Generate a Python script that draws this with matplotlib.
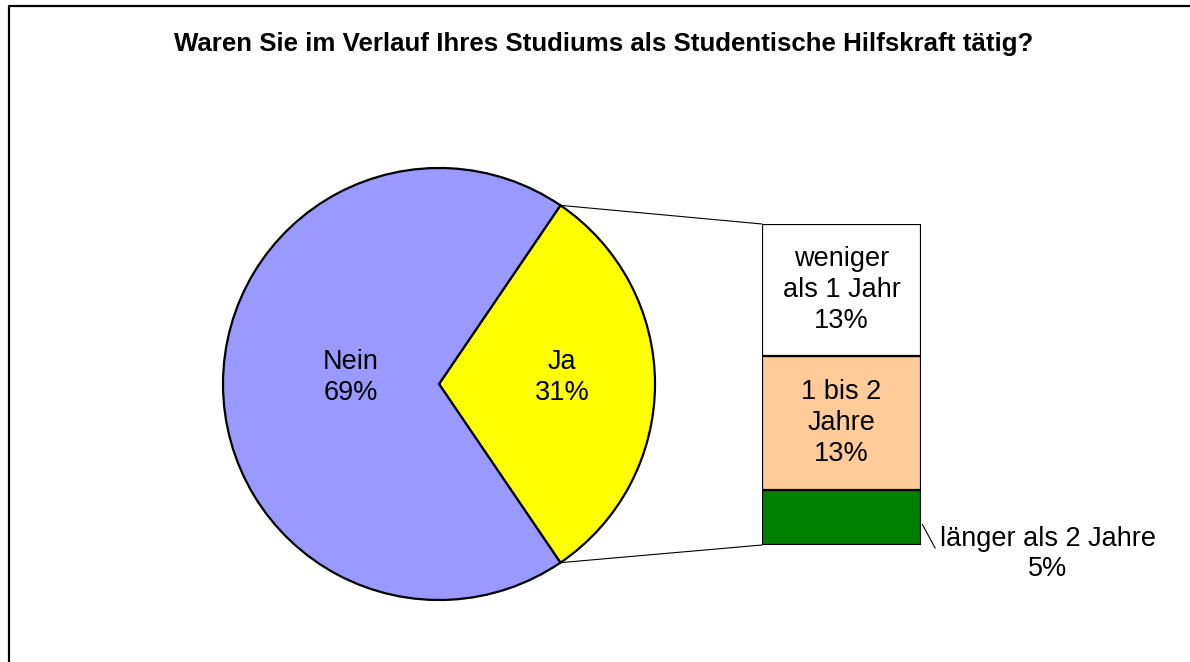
import matplotlib
matplotlib.use("Agg")
from matplotlib import pyplot as plt
from matplotlib.patches import ConnectionPatch
from matplotlib.lines import Line2D
import numpy as np

plt.rcParams['font.family'] = ['Liberation Sans', 'DejaVu Sans']

title = "Waren Sie im Verlauf Ihres Studiums als Studentische Hilfskraft tätig?"

# Hauptkreis
pie_labels = ["Ja", "Nein"]
pie_values = [31, 69]
pie_colors = ["#FFFF00", "#9999FF"]

# Aufteilung von "Ja" (von unten nach oben)
bar_labels = ["länger als 2 Jahre", "1 bis 2\nJahre", "weniger\nals 1 Jahr"]
bar_values = [5.3, 13.0, 12.7]
bar_colors = ["#008000", "#FFCC99", "#FFFFFF"]

W, H = 1190, 662
fig = plt.figure(figsize=(W / 100, H / 100), dpi=100)

# Rahmen links/oben
fig.add_artist(Line2D([9 / W, 9 / W, 1], [0, 1 - 6 / H, 1 - 6 / H],
                      transform=fig.transFigure, color="black", lw=1.6))

fig.text(604 / W, 1 - 44 / H, title, ha="center", va="center",
         fontsize=18.6, fontweight="bold")

# Kreis
ax_pie = fig.add_axes([223 / W, 1 - 600 / H, 432 / W, 432 / H])
start = -pie_values[0] * 3.6 / 2
wedges, _ = ax_pie.pie(pie_values, colors=pie_colors, startangle=start,
                       radius=1, wedgeprops=dict(edgecolor="black", linewidth=1.6))
ax_pie.set_xlim(-1.0, 1.0)
ax_pie.set_ylim(-1.0, 1.0)
ax_pie.set_aspect("equal")
ax_pie.axis("off")

label_dist = [0.57, 0.41]
for w, lab, val, d in zip(wedges, pie_labels, pie_values, label_dist):
    ang = np.deg2rad((w.theta1 + w.theta2) / 2)
    ax_pie.text(d * np.cos(ang), d * np.sin(ang) + 0.03, f"{lab}\n{val:.0f}%",
                ha="center", va="center", fontsize=19.5, linespacing=1.25)

# Balken
ax_bar = fig.add_axes([762 / W, 1 - 545 / H, 159 / W, 321 / H])
total = sum(bar_values)
bottom = 0
for lab, val, col in zip(bar_labels, bar_values, bar_colors):
    ax_bar.bar(0, val, width=1, bottom=bottom, color=col,
               edgecolor="black", linewidth=1.6)
    if val > 8:
        ax_bar.text(0, bottom + val / 2, f"{lab}\n{val:.0f}%", ha="center",
                    va="center", fontsize=19.5, linespacing=1.25)
    bottom += val
ax_bar.set_xlim(-0.5, 0.5)
ax_bar.set_ylim(0, total)
ax_bar.axis("off")

ax_bar.annotate(f"{bar_labels[0]}\n{bar_values[0]:.0f}%", xy=(0.5, bar_values[0] * 0.42),
                xycoords="data", xytext=(1048, H - 554), textcoords="figure pixels",
                ha="center", va="center", fontsize=19.5, linespacing=1.25,
                arrowprops=dict(arrowstyle="-", color="black", lw=0.8,
                                relpos=(0, 0.45), shrinkA=3, shrinkB=2))

# Verbindungslinien
a1 = np.deg2rad(wedges[0].theta2)
a2 = np.deg2rad(wedges[0].theta1)
for ang, yb in [(a1, total), (a2, 0)]:
    con = ConnectionPatch(xyA=(np.cos(ang), np.sin(ang)), coordsA=ax_pie.transData,
                          xyB=(-0.5, yb), coordsB=ax_bar.transData,
                          color="black", lw=0.8)
    fig.add_artist(con)

plt.savefig("out.png", dpi=100)
